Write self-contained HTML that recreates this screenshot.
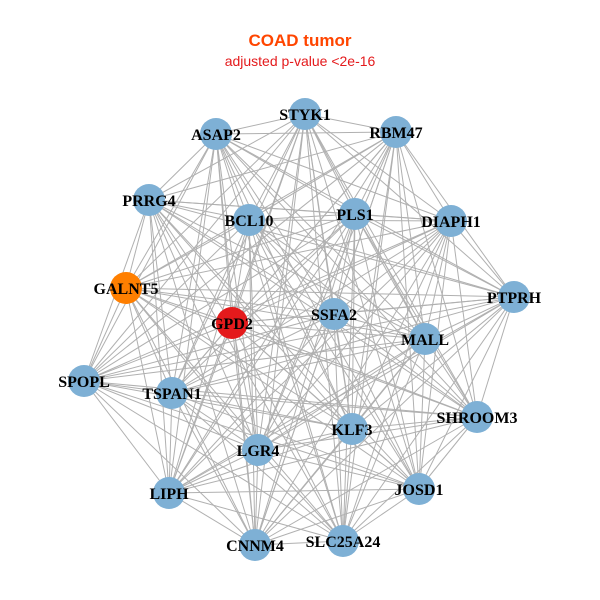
<!DOCTYPE html>
<html><head><meta charset="utf-8"><style>
html,body{margin:0;padding:0;background:#fff;width:600px;height:600px;overflow:hidden}
</style></head><body>
<svg id="g" width="600" height="600" xmlns="http://www.w3.org/2000/svg">
<rect width="600" height="600" fill="#fff"/>
<text x="300" y="46" text-anchor="middle" font-family="Liberation Sans, sans-serif" font-weight="bold" font-size="17" fill="#ff4500">COAD tumor</text>
<text x="300" y="66" text-anchor="middle" font-family="Liberation Sans, sans-serif" font-size="14" fill="#e41a1c">adjusted p-value &lt;2e-16</text>
<g id="edges" stroke="#b0b0b0" stroke-width="1"></g>
<g id="nodes"></g>
<g font-family="Liberation Serif, serif" font-weight="bold" font-size="16" text-anchor="middle" fill="#000">
<text x="305" y="120">STYK1</text>
<text x="396" y="138">RBM47</text>
<text x="216" y="140">ASAP2</text>
<text x="149" y="206">PRRG4</text>
<text x="249" y="226">BCL10</text>
<text x="355" y="220">PLS1</text>
<text x="451" y="227">DIAPH1</text>
<text x="126" y="294">GALNT5</text>
<text x="514" y="303">PTPRH</text>
<text x="334" y="320">SSFA2</text>
<text x="232" y="329">GPD2</text>
<text x="425" y="345">MALL</text>
<text x="84" y="387">SPOPL</text>
<text x="172" y="399">TSPAN1</text>
<text x="477" y="423">SHROOM3</text>
<text x="352" y="435">KLF3</text>
<text x="258" y="456">LGR4</text>
<text x="419" y="495">JOSD1</text>
<text x="169" y="499">LIPH</text>
<text x="255" y="551">CNNM4</text>
<text x="343" y="547">SLC25A24</text>
</g>
</svg>
<script>
var N=[[305,114,0],[396,132,0],[216,134,0],[149,200,0],[249,220,0],[355,214,0],[451,221,0],[126,288,1],[514,297,0],[334,314,0],[232,323,2],[425,339,0],[84,381,0],[172,393,0],[477,417,0],[352,429,0],[258,450,0],[419,489,0],[169,493,0],[255,545,0],[343,541,0]];
var ns="http://www.w3.org/2000/svg",E=document.getElementById("edges"),G=document.getElementById("nodes");
var col=["#7eb0d5","#ff7f00","#e41a1c"];
for(var i=0;i<N.length;i++)for(var j=i+1;j<N.length;j++){
 var l=document.createElementNS(ns,"line");
 l.setAttribute("x1",N[i][0]);l.setAttribute("y1",N[i][1]);l.setAttribute("x2",N[j][0]);l.setAttribute("y2",N[j][1]);E.appendChild(l);}
for(var i=0;i<N.length;i++){var c=document.createElementNS(ns,"circle");
 c.setAttribute("cx",N[i][0]);c.setAttribute("cy",N[i][1]);c.setAttribute("r",16);c.setAttribute("fill",col[N[i][2]]);G.appendChild(c);}
</script>
</body></html>
